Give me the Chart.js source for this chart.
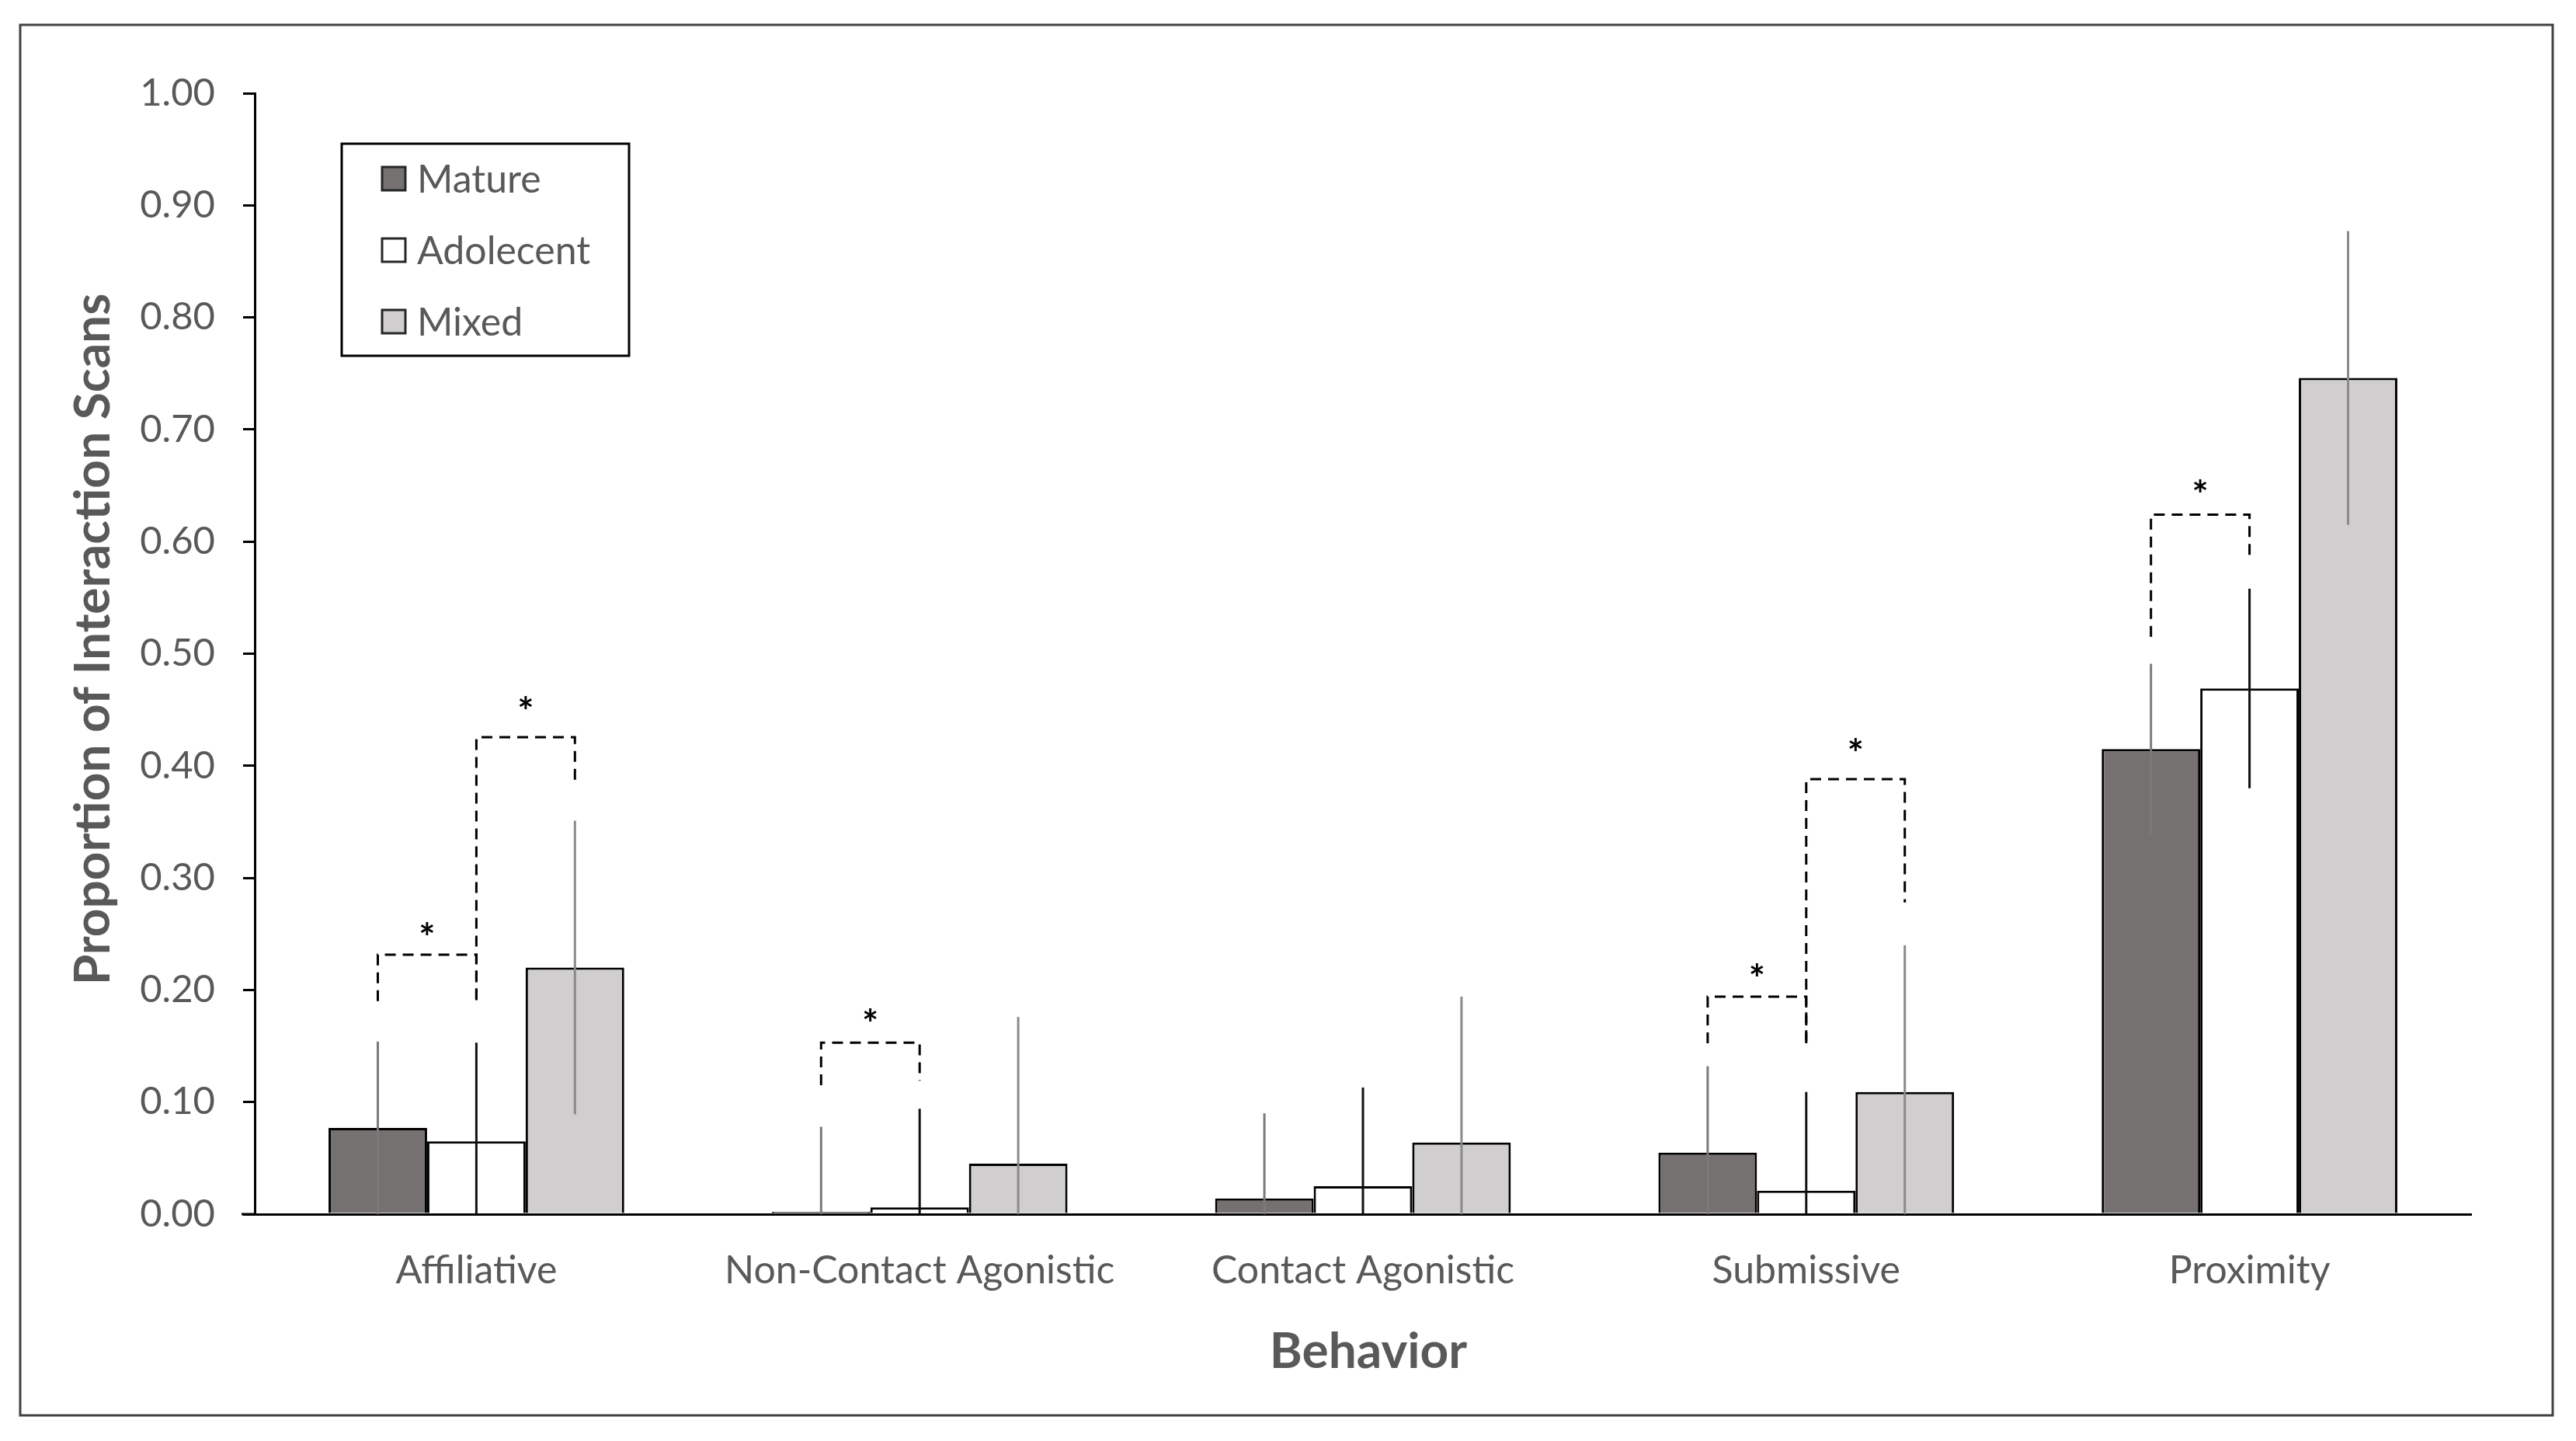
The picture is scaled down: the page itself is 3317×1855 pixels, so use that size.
<!DOCTYPE html>
<html>
<head>
<meta charset="utf-8">
<script src="https://cdn.jsdelivr.net/npm/chart.js@4.4.1/dist/chart.umd.min.js"></script>
<style>
  html, body { margin: 0; padding: 0; background: #fff; }
  canvas { display: block; }
</style>
</head>
<body>
<canvas id="chart" width="3317" height="1855"></canvas>
<script>
/* ---------- DATA ---------- */
const categories = ["Affiliative", "Non-Contact Agonistic", "Contact Agonistic", "Submissive", "Proximity"];
const seriesNames = ["Mature", "Adolecent", "Mixed"];

const mature     = [0.077, 0.002, 0.014, 0.055, 0.415];
const adolescent = [0.065, 0.006, 0.025, 0.021, 0.469];
const mixed      = [0.220, 0.045, 0.064, 0.109, 0.746];

// error bar half-lengths (lower end is cut at 0)
const matureErr     = [0.077, 0.076, 0.076, 0.077, 0.076];
const adolescentErr = [0.088, 0.088, 0.088, 0.088, 0.089];
const mixedErr      = [0.131, 0.131, 0.130, 0.131, 0.131];

const yTicks = [0, 0.1, 0.2, 0.3, 0.4, 0.5, 0.6, 0.7, 0.8, 0.9, 1.0];

// significance brackets: category, from series, to series, bracket top,
// end of left leg, end of right leg, height of the star
const bracketCat   = [0, 0, 1, 3, 3, 4];
const bracketFrom  = [0, 1, 0, 0, 1, 0];
const bracketTo    = [1, 2, 1, 1, 2, 1];
const bracketTop   = [0.2315, 0.4255, 0.153, 0.194, 0.388, 0.624];
const bracketLeft  = [0.190, 0.191, 0.115, 0.1525, 0.1525, 0.515];
const bracketRight = [0.191, 0.385, 0.119, 0.1525, 0.278, 0.585];
const starY        = [0.255, 0.456, 0.178, 0.218, 0.419, 0.650];

/* ---------- STYLE ---------- */
const fills = ["#767171", "#ffffff", "#d0cece"];
const errColors = ["#7a7a7a", "#111111", "#8a8a8a"];
const textGrey = "#595959";
const series = [mature, adolescent, mixed];
const errors = [matureErr, adolescentErr, mixedErr];

/* ---------- EXTRA DRAWING ---------- */
const extras = {
  id: "extras",
  afterDatasetsDraw(chart) {
    const ctx = chart.ctx;
    const y = chart.scales.y;

    // error bars
    errors.forEach((errs, s) => {
      const meta = chart.getDatasetMeta(s);
      ctx.save();
      ctx.strokeStyle = errColors[s];
      ctx.lineWidth = 3;
      meta.data.forEach((bar, i) => {
        const v = series[s][i];
        ctx.beginPath();
        ctx.moveTo(bar.x, y.getPixelForValue(v + errs[i]));
        ctx.lineTo(bar.x, y.getPixelForValue(Math.max(0, v - errs[i])));
        ctx.stroke();
      });
      ctx.restore();
    });

    // brackets + stars
    ctx.save();
    ctx.strokeStyle = "#000";
    ctx.lineWidth = 3;
    ctx.setLineDash([14, 9]);
    ctx.font = "bold 50px Lato";
    ctx.fillStyle = "#000";
    ctx.textAlign = "center";
    ctx.textBaseline = "alphabetic";
    bracketCat.forEach((c, k) => {
      const x1 = chart.getDatasetMeta(bracketFrom[k]).data[c].x;
      const x2 = chart.getDatasetMeta(bracketTo[k]).data[c].x;
      const yt = y.getPixelForValue(bracketTop[k]);
      ctx.beginPath();
      ctx.moveTo(x1, y.getPixelForValue(bracketLeft[k]));
      ctx.lineTo(x1, yt);
      ctx.lineTo(x2, yt);
      ctx.lineTo(x2, y.getPixelForValue(bracketRight[k]));
      ctx.stroke();
      const m = ctx.measureText("*");
      const cy = y.getPixelForValue(starY[k]);
      ctx.fillText("*", (x1 + x2) / 2, cy + (m.actualBoundingBoxAscent - m.actualBoundingBoxDescent) / 2);
    });
    ctx.restore();
  },
  afterDraw(chart) {
    const ctx = chart.ctx;
    const area = chart.chartArea;
    ctx.save();

    // x axis line runs a little past the y axis
    ctx.strokeStyle = "#000";
    ctx.lineWidth = 3;
    ctx.beginPath();
    ctx.moveTo(311, area.bottom);
    ctx.lineTo(area.left, area.bottom);
    ctx.stroke();

    // outer frame
    ctx.strokeStyle = "#404040";
    ctx.lineWidth = 3;
    ctx.strokeRect(26, 32, 3261, 1790);

    // axis titles
    ctx.fillStyle = textGrey;
    ctx.font = "bold 64px Lato";
    ctx.textAlign = "center";
    ctx.textBaseline = "middle";
    ctx.fillText("Behavior", 1762, 1740);
    ctx.save();
    ctx.translate(120, 823);
    ctx.rotate(-Math.PI / 2);
    ctx.fillText("Proportion of Interaction Scans", 0, 0);
    ctx.restore();

    // legend
    ctx.strokeStyle = "#000";
    ctx.lineWidth = 3;
    ctx.strokeRect(440, 185, 370, 273);
    ctx.font = "50px Lato";
    ctx.textAlign = "left";
    const rows = [230, 322, 414];
    seriesNames.forEach((name, i) => {
      ctx.fillStyle = fills[i];
      ctx.fillRect(492, rows[i] - 15, 30, 30);
      ctx.strokeStyle = "#262626";
      ctx.strokeRect(492, rows[i] - 15, 30, 30);
      ctx.fillStyle = textGrey;
      ctx.fillText(name, 537, rows[i] + 2);
    });
    ctx.restore();
  }
};

/* ---------- CHART ---------- */
new Chart(document.getElementById("chart"), {
  type: "bar",
  data: {
    labels: categories,
    datasets: series.map((d, i) => ({
      label: seriesNames[i],
      data: d,
      backgroundColor: fills[i],
      borderColor: "#000",
      borderWidth: 3,
      categoryPercentage: 0.667,
      barPercentage: 1.0
    }))
  },
  options: {
    responsive: false,
    animation: false,
    devicePixelRatio: 1,
    layout: { padding: { top: 120, right: 135, left: 0, bottom: 0 } },
    plugins: { legend: { display: false }, tooltip: { enabled: false } },
    scales: {
      x: {
        grid: { display: false, drawTicks: false },
        border: { display: true, color: "#000", width: 3 },
        ticks: { color: textGrey, font: { family: "Lato", size: 50 }, padding: 43, maxRotation: 0 },
        afterFit(scale) { scale.height = 292; }
      },
      y: {
        min: 0,
        max: 1,
        afterBuildTicks(scale) { scale.ticks = yTicks.map(v => ({ value: v })); },
        grid: { drawOnChartArea: false, drawTicks: true, tickLength: 15, color: "#000", lineWidth: 3 },
        border: { display: true, color: "#000", width: 3 },
        ticks: {
          color: textGrey,
          font: { family: "Lato", size: 49 },
          padding: 36,
          callback: v => v.toFixed(2)
        },
        afterFit(scale) { scale.width = 328; }
      }
    }
  },
  plugins: [extras]
});
</script>
</body>
</html>
